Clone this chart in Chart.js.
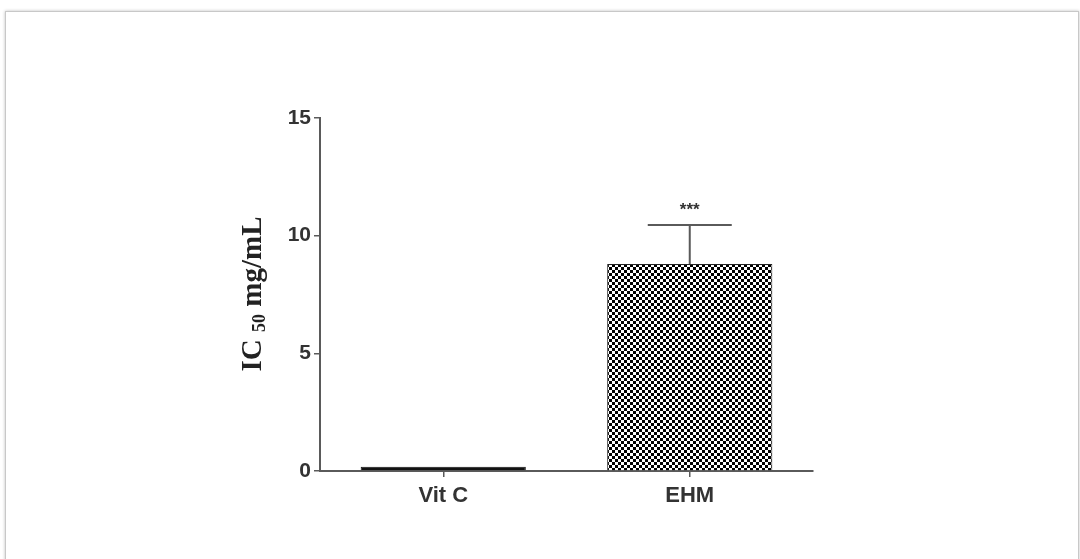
<!DOCTYPE html>
<html>
<head>
<meta charset="utf-8">
<script src="https://cdn.jsdelivr.net/npm/chart.js@4.4.0/dist/chart.umd.min.js"></script>
<style>
  body { margin: 0; background: #fff; overflow: hidden; }
  #frame { position: absolute; left: 5px; top: 11px; width: 1072px; height: 600px;
           border: 1px solid #c8c8c8; box-shadow: 0 0 3px rgba(0,0,0,0.25); }
  #wrap { position: absolute; left: 0; top: 0; width: 1080px; height: 559px; }
</style>
</head>
<body>
<div id="frame"></div>
<div id="wrap"><canvas id="grafico" width="1080" height="559"></canvas></div>
<script>
'use strict'

const categorias = ['Vit C', 'EHM'];
const valores = [0.18, 8.8];
const errores = [0, 1.65];
const significancia = ['', '***'];
const ticksY = [0, 5, 10, 15];

// checkerboard fill for the EHM bar
const pat = document.createElement('canvas');
pat.width = 6; pat.height = 6;
const pctx = pat.getContext('2d');
pctx.fillStyle = '#fff';
pctx.fillRect(0, 0, 6, 6);
pctx.fillStyle = '#000';
pctx.fillRect(0, 0, 3, 3);
pctx.fillRect(3, 3, 3, 3);
const cuadros = document.getElementById('grafico').getContext('2d').createPattern(pat, 'repeat');

const ejeColor = '#5a5a5a';
const fuente = '"Liberation Sans", Arial, sans-serif';

// error bars + stars
const barrasError = {
  id: 'barrasError',
  afterDatasetsDraw(chart) {
    const ctx = chart.ctx;
    const y = chart.scales.y;
    const meta = chart.getDatasetMeta(0);
    ctx.save();
    ctx.strokeStyle = ejeColor;
    ctx.lineWidth = 2;
    meta.data.forEach((bar, i) => {
      if (errores[i] > 0) {
        const top = y.getPixelForValue(valores[i] + errores[i]);
        const base = y.getPixelForValue(valores[i]);
        ctx.beginPath();
        ctx.moveTo(bar.x, base);
        ctx.lineTo(bar.x, top);
        ctx.moveTo(bar.x - 42, top);
        ctx.lineTo(bar.x + 42, top);
        ctx.stroke();
      }
      if (significancia[i]) {
        ctx.fillStyle = '#333';
        ctx.font = 'bold 17px ' + fuente;
        ctx.textAlign = 'center';
        ctx.textBaseline = 'middle';
        ctx.fillText(significancia[i], bar.x, y.getPixelForValue(valores[i] + errores[i]) - 15);
      }
    });
    ctx.restore();
  }
};

// y axis title with subscript
const tituloY = {
  id: 'tituloY',
  afterDraw(chart) {
    const ctx = chart.ctx;
    const big = 'bold 29px "Liberation Serif", "Times New Roman", serif';
    const small = 'bold 18px "Liberation Serif", "Times New Roman", serif';
    const partes = [['IC ', big, 0], ['50', small, 6], [' mg/mL', big, 0]];
    let total = 0;
    partes.forEach(p => { ctx.font = p[1]; total += ctx.measureText(p[0]).width; });
    ctx.save();
    ctx.translate(254, 294);
    ctx.rotate(-Math.PI / 2);
    ctx.fillStyle = '#222';
    ctx.textBaseline = 'middle';
    ctx.textAlign = 'left';
    let x = -total / 2;
    partes.forEach(p => {
      ctx.font = p[1];
      ctx.fillText(p[0], x, p[2]);
      x += ctx.measureText(p[0]).width;
    });
    ctx.restore();
  }
};

const data = {
  labels: categorias,
  datasets: [{
    data: valores,
    backgroundColor: ['#111', cuadros],
    borderColor: ['#111', '#222'],
    borderWidth: 1,
    barPercentage: 0.67,
    categoryPercentage: 1
  }]
};

const config = {
  type: 'bar',
  data,
  options: {
    responsive: false,
    devicePixelRatio: 1,
    animation: false,
    layout: { padding: { left: 0, top: 118, right: 267, bottom: 48 } },
    plugins: { legend: { display: false }, tooltip: { enabled: false } },
    scales: {
      x: {
        afterFit(s) { s.height = 40; },
        grid: { display: true, drawOnChartArea: false, offset: false, tickLength: 6, color: ejeColor, lineWidth: 1.5 },
        border: { display: true, color: ejeColor, width: 2 },
        ticks: { color: '#333', font: { family: fuente, size: 22, weight: 'bold' }, padding: 6 }
      },
      y: {
        min: 0,
        max: 15,
        afterFit(s) { s.width = 320; },
        afterBuildTicks(s) { s.ticks = ticksY.map(v => ({ value: v })); },
        grid: { display: true, drawOnChartArea: false, tickLength: 6, color: ejeColor, lineWidth: 1.5 },
        border: { display: true, color: ejeColor, width: 2 },
        ticks: { color: '#333', font: { family: fuente, size: 21, weight: 'bold' }, padding: 3 }
      }
    }
  },
  plugins: [barrasError, tituloY]
};

const GraficoIC = new Chart(document.getElementById('grafico'), config);
</script>
</body>
</html>
